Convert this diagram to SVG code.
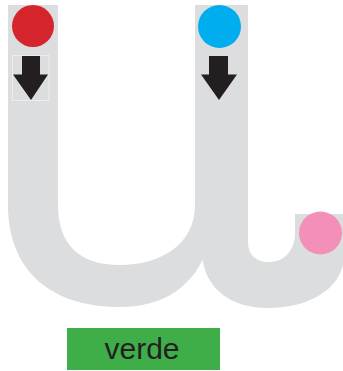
<svg xmlns="http://www.w3.org/2000/svg" width="343" height="371" viewBox="0 0 343 371">
<style>
.track{fill:#dcdddf}
.arrow{fill:#231f20}
.label{font-family:"Liberation Sans",Arial,sans-serif;font-size:30px;fill:#231f20}
</style>
<rect width="343" height="371" fill="#ffffff"/>
<g id="track">
<path class="track" d="M8,5 H58 V205 C58,245 80,265 120,265 C160,265 195,245 195,205 V5 H248 V215 C248,235 232,250 203,259 C188,290 160,307 120,307 C50,307 8,270 8,205 Z"/>
<path class="track" d="M295,214 H344 V255 C344,288 310,308 268,308 C232,308 205,290 202,255 V160 H248 V242 C248,255 256,262 269,262 C283,262 294,252 295,235 Z"/>
</g>
<g id="start-red">
<circle cx="33" cy="26" r="21" fill="#d5242c"/>
</g>
<g id="start-blue">
<circle cx="219.5" cy="26.5" r="21.5" fill="#00aeef"/>
</g>
<g id="end-pink">
<circle cx="320.5" cy="233" r="21.5" fill="#f38fb8"/>
</g>
<g id="connectors">
<rect x="12.5" y="55.5" width="36.5" height="45" fill="none" stroke="#f2f2f2" stroke-width="0.8"/>
<path class="arrow" d="M22,56 H40 V74.5 H48 L31,100 L13,74.5 H22 Z"/>
<path class="arrow" d="M209,56 H228 V74.5 H237 L219,100 L201,74.5 H209 Z"/>
</g>
<g id="label-verde">
<rect x="67" y="328" width="153" height="42" fill="#3fae49"/>
<text class="label" x="142" y="359" text-anchor="middle">verde</text>
</g>
</svg>
